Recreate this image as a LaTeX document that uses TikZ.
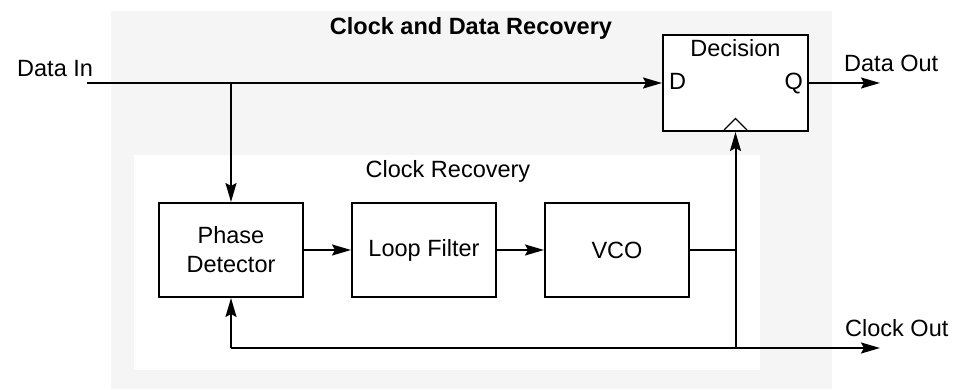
\documentclass[tikz,border=0pt]{standalone}
\usepackage{fontspec}
\setmainfont{Liberation Sans}
\usetikzlibrary{arrows.meta}
\definecolor{outerbg}{HTML}{F5F5F5}
\tikzset{
  blk/.style={draw=black, line width=2pt, fill=white, minimum width=144pt, minimum height=94pt, inner sep=0pt, align=center, font=\fontsize{23.5}{29}\selectfont},
  lbl/.style={inner sep=0pt, font=\fontsize{23.5}{29}\selectfont},
  wire/.style={line width=2pt},
  arr/.style={line width=2pt, -{Stealth[length=19pt, width=11pt, inset=3pt]}},
}
\begin{document}
\begin{tikzpicture}[x=1pt, y=-1pt]
\useasboundingbox (0,0) rectangle (963,390);
% backgrounds
\fill[outerbg] (111,11) rectangle (832,389);
\fill[white] (134,155) rectangle (760,370);
% titles
\node[lbl, font=\fontsize{23.5}{29}\selectfont\bfseries, anchor=base] (title) at (471,35) {Clock and Data Recovery};
\node[lbl, anchor=base] (crt) at (448,178) {Clock Recovery};
% blocks
\node[blk] (pd) at (231,250) {Phase\\Detector};
\node[blk] (lf) at (424,250) {Loop Filter};
\node[blk] (vco) at (617,250) {VCO};
\node[blk, minimum width=145pt, minimum height=96pt] (dec) at (735.5,83) {};
\node[lbl, anchor=base] (dect) at (735.5,57) {Decision};
\node[lbl, anchor=base west] (dd) at (669,90) {D};
\node[lbl, anchor=base east] (dq) at (803,90) {Q};
\draw[line width=1.3pt, fill=white] (724,130) -- (735.5,118.5) -- (747,130);
% external labels
\node[lbl, anchor=base west] (din) at (17,77) {Data In};
\node[lbl, anchor=base west] (dout) at (844,72) {Data Out};
\node[lbl, anchor=base west] (cout) at (845,336) {Clock Out};
% coordinates
\coordinate (dinS) at (87,83);
\coordinate (split) at (231,83);
\coordinate (doutE) at (880,83);
\coordinate (fb) at (231,348);
\coordinate (cb) at (735.5,348);
\coordinate (coutE) at (880,348);
% connectors
\draw[arr] (dinS) -- (dec.west |- dinS);
\draw[arr] (split) -- (pd.north);
\draw[arr] (dec.east) -- (doutE);
\draw[arr] (pd) -- (lf);
\draw[arr] (lf) -- (vco);
\draw[wire] (vco.east) -- (vco.east -| cb);
\draw[arr] (cb) -- (dec.south);
\draw[arr] (fb) -- (pd.south);
\draw[arr] (fb) -- (coutE);
\end{tikzpicture}
\end{document}
